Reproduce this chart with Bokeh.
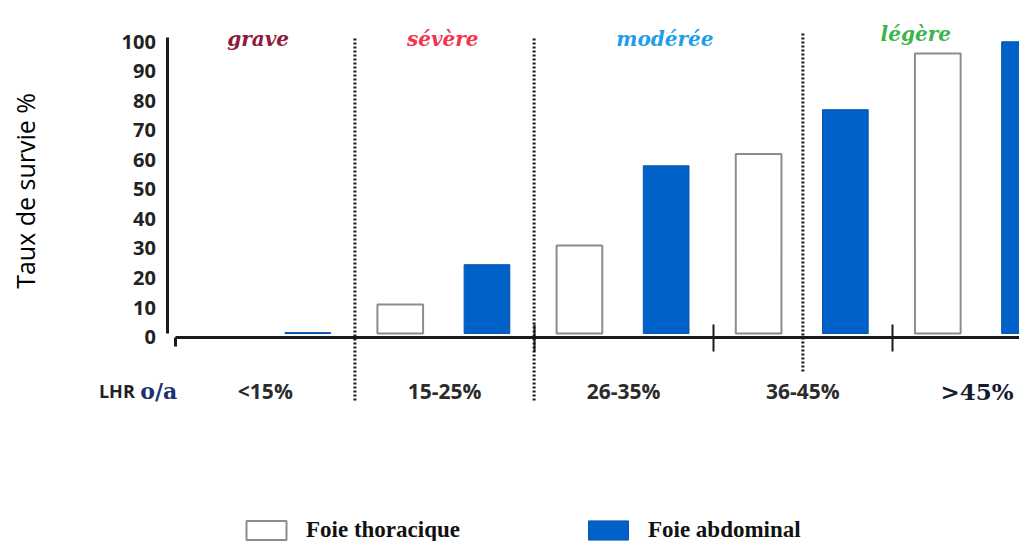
import math
from bokeh.plotting import figure
from bokeh.models import (LinearAxis, FixedTicker, ColumnDataSource, Label,
                          Legend, LegendItem, Range1d)
from bokeh.core.properties import value
from bokeh.embed import file_html
from bokeh.resources import INLINE

# ---------------- data ----------------
categories = ["<15%", "15-25%", "26-35%", "36-45%", ">45%"]
foie_thoracique = [0, 11, 31, 62, 96]
foie_abdominal = [1.5, 24.5, 58, 77, 100]
y_ticks = [0, 10, 20, 30, 40, 50, 60, 70, 80, 90, 100]
severity = ["grave", "sévère", "modérée", "légère"]
severity_colors = ["#8e1a3c", "#f5334f", "#1f9fe8", "#3db54a"]

# ---------------- layout constants (group units / value units) ----------------
sev_x = [0.46, 1.49, 2.73, 4.13]
sev_y = [100.8, 100.8, 100.8, 102.8]
sep_x = [1, 2, 3.5]
sep_bottom = [-21.5, -21.5, -11.7]
sep_top = [101.5, 101.5, 103.5]
bar_base = 1.2
dodge_t, dodge_a, bar_w = -0.247, 0.237, 0.255
label_y = -18.3
yaxis_x = -0.044

BLUE = "#0062c8"

p = figure(width=1019, height=541,
           x_range=Range1d(-0.978, 4.709), y_range=Range1d(-69.24, 113.98),
           x_axis_type=None, y_axis_type=None,
           output_backend="svg", toolbar_location=None,
           min_border_left=0, min_border_right=0,
           min_border_top=0, min_border_bottom=0)
p.outline_line_color = None
p.background_fill_color = "white"

# y axis
yaxis = LinearAxis(fixed_location=yaxis_x, ticker=FixedTicker(ticks=y_ticks),
                   bounds=(1.2, 101.6))
yaxis.axis_line_width = 3
yaxis.axis_line_color = "#1a1a1a"
yaxis.major_tick_line_color = None
yaxis.minor_tick_line_color = None
yaxis.major_label_standoff = 6
yaxis.major_label_text_font = "Open Sans"
yaxis.major_label_text_font_style = "bold"
yaxis.major_label_text_font_size = "20px"
yaxis.major_label_text_color = "#222222"
p.add_layout(yaxis, "left")

# y axis title
p.text(x=[-0.84], y=[49.5], text=["Taux de survie %"], angle=math.pi / 2,
       text_font=value("Open Sans"), text_font_size="25px", text_color="#000000",
       text_align="center", text_baseline="middle")

# x axis (line at zero with group-boundary ticks)
xaxis = LinearAxis(fixed_location=-0.1,
                   ticker=FixedTicker(ticks=[2, 3, 4], minor_ticks=[0]),
                   bounds=(0, 4.8),
                   major_label_overrides={2: "", 3: "", 4: ""})
xaxis.axis_line_width = 3
xaxis.axis_line_color = "#1a1a1a"
xaxis.major_tick_in = 13
xaxis.major_tick_out = 14
xaxis.major_tick_line_width = 2
xaxis.major_tick_line_color = "#1a1a1a"
xaxis.minor_tick_in = 0
xaxis.minor_tick_out = 9
xaxis.minor_tick_line_width = 3
xaxis.minor_tick_line_color = "#1a1a1a"
p.add_layout(xaxis, "below")

# dotted separators
p.segment(x0=sep_x, y0=sep_bottom, x1=sep_x, y1=sep_top,
          line_color="#1a1a1a", line_width=3, line_dash="2 2")

# bars
t_src = ColumnDataSource(dict(
    x=[i + 0.5 + dodge_t for i, v in enumerate(foie_thoracique) if v > 0],
    top=[v for v in foie_thoracique if v > 0]))
a_src = ColumnDataSource(dict(
    x=[i + 0.5 + dodge_a for i, v in enumerate(foie_abdominal) if v > 0],
    top=[v for v in foie_abdominal if v > 0]))
r_t = p.vbar(x="x", top="top", bottom=bar_base, width=bar_w, source=t_src,
             fill_color="white", line_color="#8c8c8c", line_width=2)
r_a = p.vbar(x="x", top="top", bottom=bar_base, width=bar_w, source=a_src,
             fill_color=BLUE, line_color="#0a55b0", line_width=1)

# severity labels
sev_src = ColumnDataSource(dict(x=sev_x, y=sev_y, text=severity, color=severity_colors))
p.text(x="x", y="y", text="text", text_color="color", source=sev_src,
       text_font=value("DejaVu Serif"), text_font_style="bold italic",
       text_font_size="20px", text_align="center", text_baseline="alphabetic")

# category labels
cat_src = ColumnDataSource(dict(x=[i + 0.5 for i in range(len(categories) - 1)],
                                y=[label_y] * (len(categories) - 1),
                                text=categories[:-1]))
p.text(x="x", y="y", text="text", source=cat_src,
       text_font=value("Open Sans"), text_font_style="bold", text_font_size="21px",
       text_color="#2b2b2b", text_align="center", text_baseline="middle")
last_src = ColumnDataSource(dict(x=[len(categories) - 0.5], y=[label_y], text=categories[-1:]))
p.text(x="x", y="y", text="text", source=last_src, x_offset=-5,
       text_font=value("DejaVu Serif"), text_font_style="bold", text_font_size="23px",
       text_color="#151a30", text_align="center", text_baseline="middle")

# LHR o/a
p.add_layout(Label(x=-0.4286, y=label_y, text="LHR", text_font="Open Sans",
                   text_font_style="bold", text_font_size="18px", text_color="#222222",
                   text_align="left", text_baseline="middle"))
p.add_layout(Label(x=-0.198, y=label_y, text="o/a", text_font="DejaVu Serif",
                   text_font_style="bold", text_font_size="22px", text_color="#1c3170",
                   text_align="left", text_baseline="middle"))

# legend
legend = Legend(items=[LegendItem(label="Foie thoracique", renderers=[r_t]),
                       LegendItem(label="Foie abdominal", renderers=[r_a])],
                orientation="horizontal", location=(241, -2),
                glyph_width=50, glyph_height=24, label_height=24,
                label_standoff=15, spacing=123, padding=0, margin=0,
                border_line_color=None, background_fill_alpha=0,
                label_text_font="Liberation Serif", label_text_font_style="bold",
                label_text_font_size="23px", label_text_color="#111111")
p.add_layout(legend)

open("out.html", "w").write(file_html(p, INLINE))
